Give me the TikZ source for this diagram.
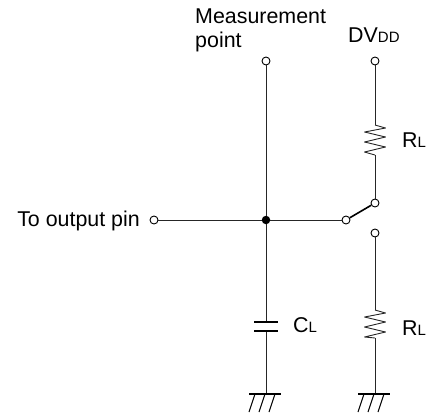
\documentclass[tikz,border=0pt]{standalone}
\usepackage{fontspec}
\setmainfont{Liberation Sans}
\tikzset{
  x=1pt,y=-1pt,
  wire/.style={line width=0.9pt,black!85},
  term/.style={circle,draw=black,line width=0.9pt,fill=white,inner sep=0pt,minimum size=8pt},
  dotj/.style={circle,fill=black,inner sep=0pt,minimum size=8.5pt},
  lab/.style={inner sep=0pt,anchor=base west,font=\fontsize{21.4}{21.4}\selectfont},
  labr/.style={lab,anchor=base east},
}
\newcommand{\subt}[1]{{\fontsize{15}{15}\selectfont #1}}
\newcommand{\gnd}[1]{%
  \draw[line width=1.3pt] ($(#1)+(-17,0)$) -- ($(#1)+(15,0)$);
  \foreach \d in {-11,-1,9} \draw[line width=1pt] ($(#1)+(\d,0)$) -- ($(#1)+(\d-6,18)$);
}
\newcommand{\zig}[2]{%
  \draw[wire,line join=round] (#1) -- ++(10.5,3) -- ++(-21,4) -- ++(21,5) -- ++(-21,5) -- ++(21,5) -- ++(-21,5) -- (#2);
}
\usetikzlibrary{calc}
\begin{document}
\begin{tikzpicture}
\useasboundingbox (0,0) rectangle (430,416);
\node[term] (in) at (154,220) {};
\node[dotj] (j) at (266,220) {};
\node[term] (mp) at (266,61) {};
\node[term] (dv) at (375,61) {};
\node[term] (sw) at (346,220) {};
\node[term] (up) at (375,203) {};
\node[term] (lo) at (375,233) {};
\coordinate (r1a) at (375,125);
\coordinate (r1b) at (375,155);
\coordinate (r2a) at (375,310);
\coordinate (r2b) at (375,338);
\coordinate (c1) at (266,322);
\coordinate (c2) at (266,331);
\coordinate (g1) at (266,394);
\coordinate (g2) at (375,394);
\draw[wire] (in) -- (j);
\draw[wire] (j) -- (sw);
\draw[wire] (mp) -- (j);
\draw[wire] (j) -- (c1);
\draw[wire] (c2) -- (g1);
\draw[line width=1.9pt] ($(c1)+(-12,0)$) -- ($(c1)+(12,0)$);
\draw[line width=1.9pt] ($(c2)+(-12,0)$) -- ($(c2)+(12,0)$);
\draw[wire] (dv) -- (r1a);
\zig{r1a}{r1b}
\draw[wire] (r1b) -- (up);
\draw[wire] (lo) -- (r2a);
\zig{r2a}{r2b}
\draw[wire] (r2b) -- (g2);
\draw[line width=1.6pt] (sw) -- (up);
\gnd{g1}
\gnd{g2}
\node[lab] (m1) at (195,23) {Measurement};
\node[lab] (m2) at (195,47) {point};
\node[lab] (dd) at (348,42) {DV\subt{DD}};
\node[labr] (top) at (140,226) {To output pin};
\node[lab] (rl1) at (402,147) {R\subt{L}};
\node[lab] (rl2) at (402,335) {R\subt{L}};
\node[lab] (cl) at (293,332) {C\subt{L}};
\end{tikzpicture}
\end{document}
